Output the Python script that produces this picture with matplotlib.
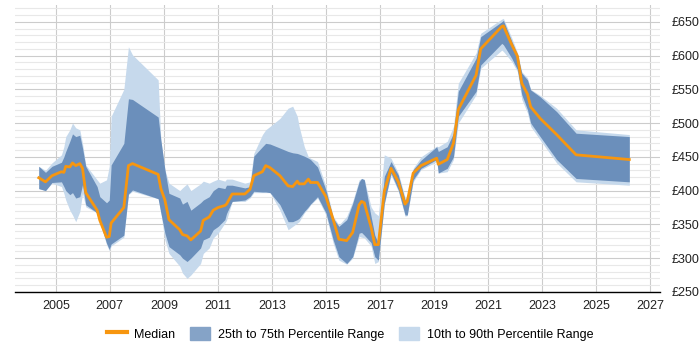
import numpy as np
import matplotlib.pyplot as plt
from matplotlib.ticker import MultipleLocator, FuncFormatter
from matplotlib.patches import Patch
from matplotlib.lines import Line2D

plt.rcParams['font.family'] = ['Liberation Sans Narrow', 'Liberation Sans', 'DejaVu Sans']

# Данные: год, медиана и перцентили (£ в день)
years = [2004.37, 2004.62, 2004.86, 2005.21, 2005.30, 2005.37, 2005.52, 2005.62, 2005.74, 2005.89,
         2005.99, 2006.11, 2006.53, 2006.63, 2006.88, 2006.98, 2007.05, 2007.52, 2007.69, 2007.84,
         2008.79, 2008.89, 2009.04, 2009.19, 2009.59, 2009.69, 2009.86, 2010.00, 2010.36, 2010.46,
         2010.68, 2010.83, 2011.01, 2011.26, 2011.32, 2011.53, 2012.00, 2012.19, 2012.33, 2012.65,
         2012.77, 2012.93, 2013.30, 2013.60, 2013.77, 2013.94, 2014.01, 2014.20, 2014.35, 2014.43,
         2014.69, 2015.00, 2015.27, 2015.48, 2015.77, 2015.99, 2016.23, 2016.32, 2016.42, 2016.67,
         2016.81, 2016.94, 2017.16, 2017.41, 2017.68, 2017.93, 2018.01, 2018.23, 2018.52, 2019.10,
         2019.16, 2019.49, 2019.72, 2019.90, 2020.56, 2020.73, 2021.51, 2021.57, 2021.88, 2022.09,
         2022.25, 2022.46, 2022.58, 2022.93, 2023.54, 2024.26, 2026.23]

median = [419, 413, 422, 428, 427, 436, 435, 441, 437, 440,
          433, 397, 371, 356, 331, 332, 352, 375, 437, 440,
          424, 403, 386, 357, 342, 335, 333, 327, 340, 356,
          361, 371, 375, 378, 380, 395, 395, 402, 422, 428,
          437, 434, 422, 407, 406, 414, 410, 410, 417, 412,
          412, 391, 357, 328, 326, 338, 379, 384, 382, 346,
          320, 320, 399, 433, 413, 380, 384, 426, 437, 448,
          439, 446, 470, 520, 571, 610, 643, 644, 616, 599,
          559, 543, 524, 507, 483, 453, 446]

p75 = [436, 427, 436, 442, 450, 458, 473, 484, 480, 482,
       463, 436, 406, 391, 382, 386, 438, 470, 536, 535,
       509, 475, 431, 396, 389, 380, 384, 371, 382, 386,
       391, 400, 405, 403, 408, 408, 404, 406, 451, 465,
       470, 469, 463, 458, 456, 455, 454, 451, 448, 446,
       435, 401, 359, 347, 357, 381, 413, 418, 416, 362,
       334, 322, 421, 443, 423, 386, 389, 431, 445, 465,
       458, 465, 485, 547, 596, 628, 650, 652, 621, 601,
       574, 564, 549, 539, 517, 485, 480]

p25 = [403, 400, 412, 413, 406, 400, 394, 397, 389, 391,
       409, 379, 367, 354, 322, 313, 321, 334, 395, 401,
       388, 367, 337, 317, 305, 300, 295, 300, 315, 327,
       331, 342, 347, 357, 366, 384, 386, 391, 399, 398,
       398, 397, 379, 354, 354, 357, 359, 369, 376, 380,
       391, 367, 327, 302, 292, 302, 337, 338, 334, 323,
       302, 297, 381, 426, 401, 364, 364, 416, 433, 446,
       426, 433, 450, 510, 547, 586, 618, 616, 596, 579,
       542, 520, 500, 480, 446, 418, 413]

p90 = [436, 430, 441, 453, 465, 480, 490, 500, 493, 490,
       470, 438, 416, 411, 416, 436, 510, 550, 613, 601,
       564, 475, 431, 411, 400, 404, 410, 400, 410, 414,
       411, 414, 417, 414, 417, 417, 411, 413, 455, 483,
       490, 495, 507, 522, 525, 510, 495, 465, 450, 448,
       443, 406, 362, 349, 362, 384, 416, 418, 417, 376,
       367, 363, 453, 448, 426, 390, 391, 433, 450, 466,
       465, 473, 495, 559, 604, 633, 654, 655, 626, 604,
       576, 567, 550, 541, 522, 490, 483]

p10 = [403, 400, 411, 406, 396, 386, 371, 364, 354, 369,
       396, 376, 367, 353, 320, 311, 318, 331, 394, 399,
       388, 367, 327, 307, 288, 278, 270, 275, 292, 307,
       315, 330, 337, 352, 356, 384, 384, 389, 397, 397,
       397, 397, 371, 342, 347, 352, 354, 367, 374, 379,
       389, 364, 322, 297, 291, 300, 332, 331, 330, 318,
       292, 295, 379, 423, 399, 362, 363, 413, 431, 443,
       426, 428, 446, 500, 542, 581, 608, 606, 591, 576,
       535, 515, 495, 475, 441, 413, 408]

light_col = '#c6d9ec'
dark_col = '#6b8fbb'
orange = '#f7960f'

fig = plt.figure(figsize=(7, 3.5), dpi=100)
ax = fig.add_axes([0.021, 0.166, 0.922, 0.82])

ax.fill_between(years, p10, p90, color=light_col, lw=0, zorder=2)
ax.fill_between(years, p25, p75, color=dark_col, lw=0, zorder=3)
ax.plot(years, median, color=orange, lw=2, zorder=4)

ax.set_xlim(2003.48, 2027.37)
ax.set_ylim(250, 675)

ax.xaxis.set_major_locator(MultipleLocator(2))
ax.set_xticks(np.arange(2005, 2028, 2))
ax.yaxis.set_major_locator(MultipleLocator(50))
ax.yaxis.set_minor_locator(MultipleLocator(10))
ax.yaxis.set_major_formatter(FuncFormatter(lambda v, p: '£%d' % v))
ax.yaxis.tick_right()

ax.grid(axis='x', which='major', color='#cccccc', lw=0.8, zorder=0)
ax.grid(axis='y', which='major', color='#cccccc', lw=0.8, zorder=0)
ax.grid(axis='y', which='minor', color='#e8e8e8', lw=0.8, zorder=0)
ax.set_axisbelow(True)

for s in ['top', 'right', 'left']:
    ax.spines[s].set_visible(False)
ax.spines['bottom'].set_color('black')
ax.spines['bottom'].set_linewidth(1)
ax.tick_params(axis='both', which='both', length=0, labelsize=9, colors='#222222')
ax.tick_params(axis='x', pad=6)
ax.tick_params(axis='y', pad=8)

handles = [Line2D([], [], color=orange, lw=3),
           Patch(color='#85a3c7'),
           Patch(color=light_col)]
labels = ['Median', '25th to 75th Percentile Range', '10th to 90th Percentile Range']
fig.legend(handles, labels, loc='center', bbox_to_anchor=(0.5, 0.047), ncol=3,
           frameon=False, fontsize=9, handlelength=1.6, handleheight=1.3,
           columnspacing=1.2, handletextpad=0.6)

fig.savefig('out.png', dpi=100)
